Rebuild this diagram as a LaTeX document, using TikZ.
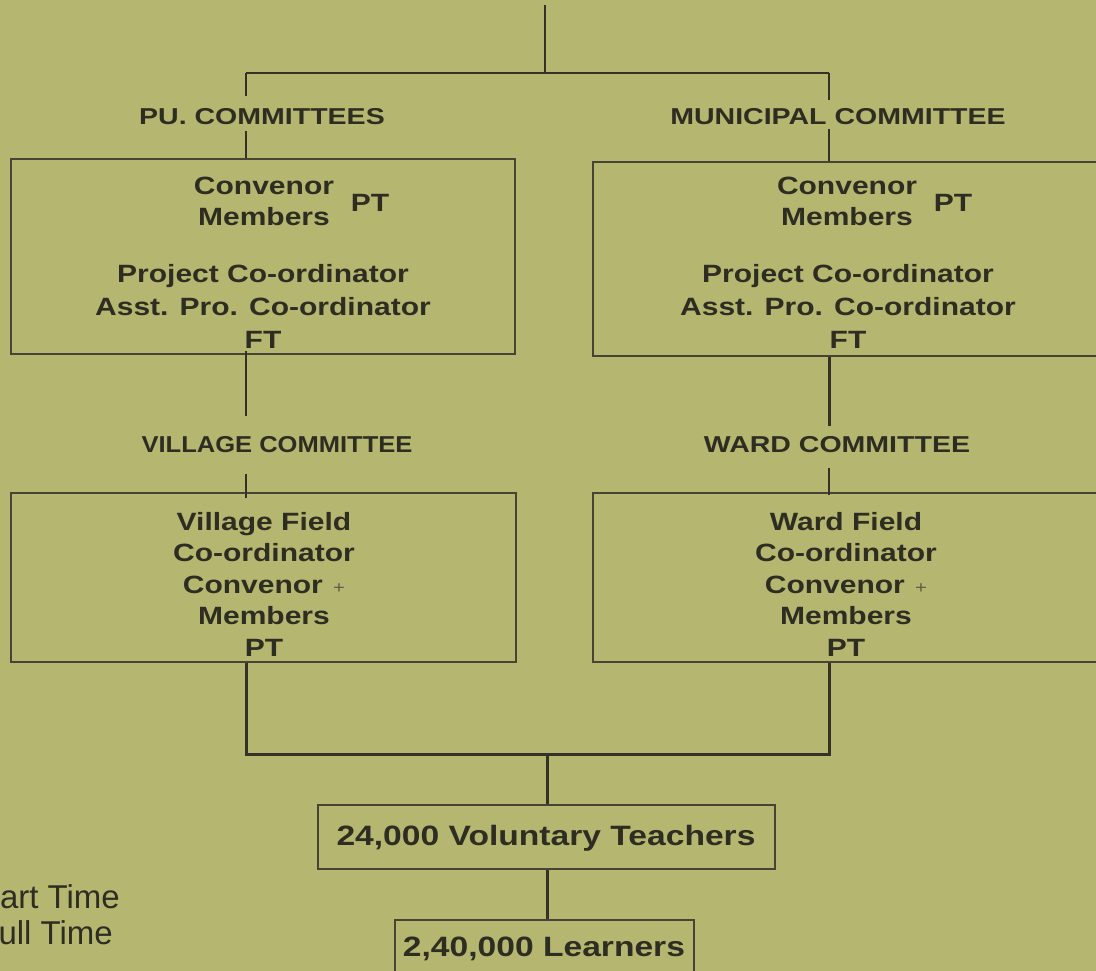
\documentclass[tikz,border=0pt]{standalone}
\usepackage{fontspec}
\setmainfont{Liberation Sans}
\newfontfamily\boxfont[FakeStretch=1.2]{Liberation Sans}
\newfontfamily\lblfont[FakeStretch=1.24]{Liberation Sans}
\newfontfamily\lblfontb[FakeStretch=1.11]{Liberation Sans}
\definecolor{bg}{RGB}{181,183,113}
\definecolor{linec}{RGB}{52,50,38}
\definecolor{boxc}{RGB}{70,68,52}
\definecolor{txt}{RGB}{46,45,34}
\definecolor{plusc}{RGB}{95,93,70}
\newcommand\lightplus{{\mdseries\fontsize{17}{17}\selectfont\color{plusc}\hspace{2pt}+}}
\begin{document}
\begin{tikzpicture}[x=1pt,y=-1pt,
  thinline/.style={draw=linec, line width=1.5pt},
  midline/.style={draw=linec, line width=2.4pt},
  thickline/.style={draw=linec, line width=3pt},
  boxst/.style={draw=boxc, line width=1.3pt, rectangle, inner sep=0pt},
  lbl/.style={text=txt, font=\lblfont\bfseries\fontsize{23}{26}\selectfont, inner sep=0pt},
  lblb/.style={text=txt, font=\lblfontb\bfseries\fontsize{23}{26}\selectfont, inner sep=0pt},
  btxt/.style={text=txt, font=\boxfont\bfseries\fontsize{25}{31}\selectfont, align=center, inner sep=0pt},
  btxtb/.style={text=txt, font=\boxfont\bfseries\fontsize{25}{33}\selectfont, align=center, inner sep=0pt},
  btxtc/.style={text=txt, font=\boxfont\bfseries\fontsize{25}{31.5}\selectfont, align=center, inner sep=0pt},
  btxtd/.style={text=txt, font=\boxfont\bfseries\fontsize{28}{32}\selectfont, align=center, inner sep=0pt},
  leg/.style={text=txt, font=\fontsize{33}{38}\selectfont, inner sep=0pt}]
\fill[bg] (0,0) rectangle (1096,971);
\useasboundingbox (0,0) rectangle (1096,971);

% junction coordinates
\coordinate (top) at (545,5);
\coordinate (hj) at (545,73);
\coordinate (hl) at (246,73);
\coordinate (hr) at (829,73);
\coordinate (bl) at (246,754);
\coordinate (br) at (829,754);
\coordinate (bj) at (547,754);

% boxes
\node[boxst, minimum width=504pt, minimum height=195pt] (b1) at (263,256.5) {};
\node[boxst, minimum width=507pt, minimum height=194pt] (b2) at (846.5,259) {};
\node[boxst, minimum width=505pt, minimum height=169pt] (b3) at (263.5,577.5) {};
\node[boxst, minimum width=507pt, minimum height=169pt] (b4) at (846.5,577.5) {};
\node[boxst, minimum width=457pt, minimum height=64pt] (b5) at (546.5,837) {};
\node[boxst, minimum width=299pt, minimum height=58pt] (b6) at (544.5,949) {};

% labels
\node[lbl] (pu) at (262,117) {PU. COMMITTEES};
\node[lbl] (mun) at (838,117) {MUNICIPAL COMMITTEE};
\node[lblb] (vil) at (277,445) {VILLAGE COMMITTEE};
\node[lbl] (ward) at (837,445) {WARD COMMITTEE};

% box texts
\node[btxt] (b1a) at (264,201.5) {Convenor\\Members};
\node[btxt] (b1pt) at (370,203) {PT};
\node[btxtb] (b1b) at (263,306) {Project Co-ordinator\\Asst. Pro. Co-ordinator\\FT};
\node[btxt] (b2a) at (847,201.5) {Convenor\\Members};
\node[btxt] (b2pt) at (953,203) {PT};
\node[btxtb] (b2b) at (848,306) {Project Co-ordinator\\Asst. Pro. Co-ordinator\\FT};
\node[btxtc] (b3t) at (264,584) {Village Field\\Co-ordinator\\Convenor \lightplus\\Members\\PT};
\node[btxtc] (b4t) at (846,584) {Ward Field\\Co-ordinator\\Convenor \lightplus\\Members\\PT};
\node[btxtd] (b5t) at (546,838) {24,000 Voluntary Teachers};
\node[btxtd] (b6t) at (544,949) {2,40,000 Learners};

% legend
\node[leg, anchor=base east] (lpt) at (120,908) {Part Time};
\node[leg, anchor=base east] (lft) at (113,944) {Full Time};

% connectors: top
\draw[midline] (top) -- (hj);
\draw[thinline] (hl) -- (hr);
\draw[thinline] (hl) -- ++(0,23);
\draw[thinline] (hr) -- ++(0,27);
\draw[thinline] (b1.north -| hl) -- ++(0,-27);
\draw[thinline] (b2.north -| hr) -- ++(0,-32);

% middle
\draw[midline] ([yshift=4pt]b1.south -| hl) -- ++(0,65);
\draw[thickline] (b2.south -| hr) -- ++(0,69);
\draw[thinline] ([yshift=-6pt]b3.north -| hl) -- ++(0,-24);
\draw[thinline] ([yshift=-3pt]b4.north -| hr) -- ++(0,-27);

% bottom
\draw[thickline] (b3.south -| hl) -- (bl) -- (br) -- (b4.south -| hr);
\draw[thickline] (bj) -- (bj |- b5.north);
\draw[thickline] (bj |- b5.south) -- (bj |- b6.north);
\end{tikzpicture}
\end{document}
